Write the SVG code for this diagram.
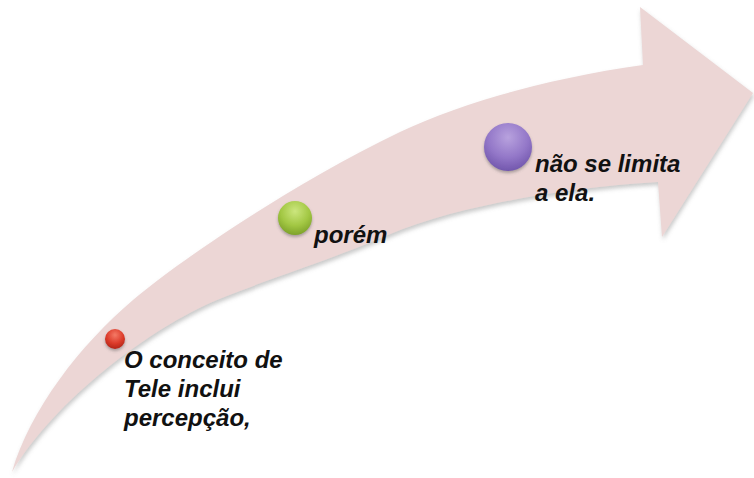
<svg xmlns="http://www.w3.org/2000/svg" width="754" height="478" viewBox="0 0 754 478">
<defs>
<style>
.lbl{font-family:"Liberation Sans",Arial,sans-serif;font-weight:bold;font-style:italic;font-size:24px;fill:#111}
</style>
<filter id="sh" x="-10%" y="-10%" width="120%" height="130%">
<feDropShadow dx="1" dy="3" stdDeviation="2" flood-color="#888" flood-opacity="0.45"/>
</filter>
<filter id="bsh" x="-30%" y="-30%" width="160%" height="160%">
<feDropShadow dx="0" dy="2" stdDeviation="1.5" flood-color="#555" flood-opacity="0.45"/>
</filter>
<radialGradient id="gRed" cx="0.5" cy="0.3" r="0.7">
<stop offset="0" stop-color="#f47a66"/><stop offset="0.6" stop-color="#dc3b2a"/><stop offset="1" stop-color="#b22618"/>
</radialGradient>
<radialGradient id="gGreen" cx="0.5" cy="0.3" r="0.7">
<stop offset="0" stop-color="#cce67e"/><stop offset="0.6" stop-color="#a2c743"/><stop offset="1" stop-color="#7ea22a"/>
</radialGradient>
<radialGradient id="gPurple" cx="0.5" cy="0.3" r="0.7">
<stop offset="0" stop-color="#b8a2de"/><stop offset="0.6" stop-color="#9377c8"/><stop offset="1" stop-color="#7257ad"/>
</radialGradient>
</defs>
<rect width="754" height="478" fill="#ffffff"/>
<g id="arrow">
<path filter="url(#sh)" fill="#ecd6d5" d="M12,472 C30,410 80,345 133,300 C185,256 300,180 400,132 C460,103 550,78 643,65 L640,7 L753,93 L662,237 L658,182 C600,185 470,200 388,235 C330,260 265,280 217,300 C150,328 55,400 12,472 Z"/>
</g>
<g id="node1">
<circle cx="115" cy="339" r="10" fill="url(#gRed)" filter="url(#bsh)"/>
<text class="lbl" x="124" y="368">O conceito de</text>
<text class="lbl" x="124" y="397">Tele inclui</text>
<text class="lbl" x="124" y="426">percepção,</text>
</g>
<g id="node2">
<circle cx="295" cy="218" r="17" fill="url(#gGreen)" filter="url(#bsh)"/>
<text class="lbl" x="314" y="243">porém</text>
</g>
<g id="node3">
<circle cx="508" cy="147" r="24" fill="url(#gPurple)" filter="url(#bsh)"/>
<text class="lbl" x="535" y="172">não se limita</text>
<text class="lbl" x="535" y="201">a ela.</text>
</g>
<g id="connectors"/>
</svg>
